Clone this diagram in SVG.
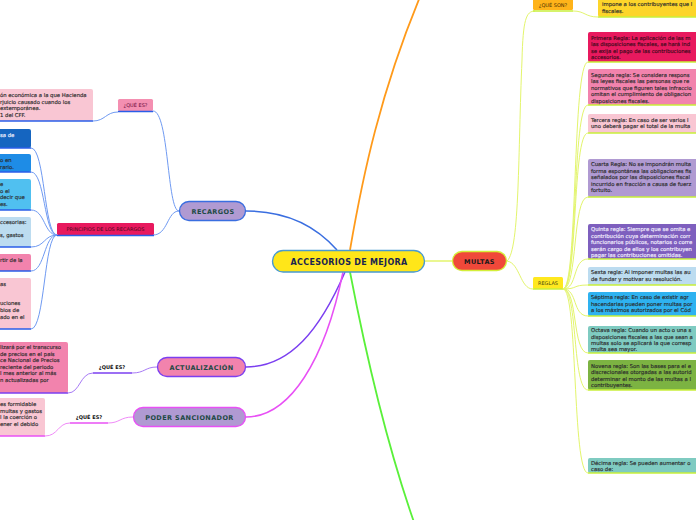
<svg xmlns="http://www.w3.org/2000/svg" width="696" height="520" viewBox="0 0 696 520">
<style>
.t{font-family:"DejaVu Sans",sans-serif;font-size:5.3px;fill:#2a2a2a;stroke:#2a2a2a;stroke-width:0.15px}
.w{fill:#f4f0ff;stroke:#f4f0ff}
.m{fill:#3a0a1a;stroke:#3a0a1a}
.nl{font-family:"DejaVu Sans",sans-serif;font-weight:bold;font-size:6.5px;letter-spacing:0.4px;fill:#1d4a44;text-anchor:middle}
.lb{font-family:"DejaVu Sans",sans-serif;font-size:5px;text-anchor:middle}
.c{fill:none}
.blue{stroke:#6f9af2;stroke-width:1}
.bu{stroke:#2a5ee8;stroke-width:1.5}
.lime{stroke:#e3f56c;stroke-width:1}
.lu{stroke:#c8ef3a;stroke-width:1.5}
</style>
<rect width="696" height="520" fill="#ffffff"/>
<g id="connectors" class="c">
<path d="M246,211 C285,211 315,225 337,250" stroke="#3a6ee0" stroke-width="1.5"/>
<path d="M350,250 C362,180 380,90 425,-15" stroke="#ff9a1a" stroke-width="1.8"/>
<path d="M350,272 C365,350 385,440 415,525" stroke="#5af03a" stroke-width="1.8"/>
<path d="M345,272 C320,330 290,367 246,367" stroke="#7b3ff0" stroke-width="1.5"/>
<path d="M343,272 C325,360 290,417 246,417" stroke="#e850f5" stroke-width="1.5"/>
<path d="M425,261 L452,261" stroke="#e3f56c" stroke-width="1.5"/>
<path class="blue" d="M179,211 C167,211 169,111 153,111"/>
<path class="blue" d="M179,211 C167,211 168,235 153,235"/>
<path class="blue" d="M118,112 C106,112 105,121 93,121"/>
<path class="blue" d="M57,235 C44,235 45,148 31,148"/>
<path class="blue" d="M57,235 C44,235 45,172 31,172"/>
<path class="blue" d="M57,235 C44,235 45,210 31,210"/>
<path class="blue" d="M57,235 C44,235 45,247 31,247"/>
<path class="blue" d="M57,235 C44,235 45,271 31,271"/>
<path class="blue" d="M57,235 C44,235 45,329 31,329"/>
<path d="M157,367 C145,367 145,373 132,373" stroke="#a77af5" stroke-width="1"/>
<path d="M93,373 C80,373 80,393 68,393" stroke="#a77af5" stroke-width="1"/>
<path d="M133,417 C120,417 120,423 108,423" stroke="#f08af8" stroke-width="1"/>
<path d="M70,423 C58,423 58,436 45,436" stroke="#f08af8" stroke-width="1"/>
<path class="lime" d="M507,261 C520,250 518,150 522,60 C523,20 526,11 535,11"/>
<path class="lime" d="M507,261 C520,263 520,289 533,289"/>
<path class="lime" d="M573,11 C585,11 585,17 598,17"/>
<path class="lime" d="M563,289 C578,289 572,62 588,62"/>
<path class="lime" d="M563,289 C578,289 572,105 588,105"/>
<path class="lime" d="M563,289 C578,289 572,133 588,133"/>
<path class="lime" d="M563,289 C578,289 572,197 588,197"/>
<path class="lime" d="M563,289 C578,289 572,259 588,259"/>
<path class="lime" d="M563,289 C578,289 572,285 588,285"/>
<path class="lime" d="M563,289 C578,289 572,316 588,316"/>
<path class="lime" d="M563,289 C578,289 572,353 588,353"/>
<path class="lime" d="M563,289 C578,289 572,390 588,390"/>
<path class="lime" d="M563,289 C578,289 572,473 588,473"/>
</g>
<g id="central">
<rect x="272.5" y="250.5" width="152" height="21.5" rx="10.7" fill="#ffe619" stroke="#4a9ad0" stroke-width="1.3"/>
<text x="349" y="264.5" text-anchor="middle" font-family="DejaVu Sans,sans-serif" font-weight="bold" font-size="8" letter-spacing="0.3" fill="#1a2550">ACCESORIOS DE MEJORA</text>
</g>
<g id="recargos">
<rect x="179.5" y="201.5" width="66" height="19" rx="9.5" fill="#b09ad2" stroke="#3a6ee0" stroke-width="1.3"/>
<text class="nl" x="213" y="213.5">RECARGOS</text>
</g>
<g id="actualizacion">
<rect x="157.5" y="357.5" width="88" height="19" rx="9.5" fill="#f283ad" stroke="#7b3ff0" stroke-width="1.3"/>
<text class="nl" x="201.5" y="369.5">ACTUALIZACIÓN</text>
</g>
<g id="poder">
<rect x="133.5" y="407.5" width="112" height="19" rx="9.5" fill="#b09ad2" stroke="#e850f5" stroke-width="1.3"/>
<text class="nl" x="189.5" y="419.5">PODER SANCIONADOR</text>
</g>
<g id="multas">
<rect x="452.5" y="251.5" width="54" height="19" rx="9.5" fill="#f0483a" stroke="#d4ef3a" stroke-width="1.3"/>
<text class="nl" x="479.5" y="263.5" style="fill:#1a1a1a">MULTAS</text>
</g>
<g id="recargos-que-es">
<rect x="118" y="99" width="35" height="12" rx="1.5" fill="#f48fb1"/>
<line x1="118" y1="111.5" x2="153" y2="111.5" class="bu"/>
<text class="lb" x="135.5" y="107" fill="#6a0a3a">¿QUÉ ES?</text>
</g>
<g id="recargos-def">
<rect x="-3" y="89" width="96" height="32" rx="2" fill="#f9c6d3"/>
<line x1="0" y1="121" x2="93" y2="121" class="bu"/>
<text class="t" x="0" y="97">ón económica a la que Hacienda</text>
<text class="t" x="0" y="103.5">rjuicio causado cuando los</text>
<text class="t" x="0" y="110"> extemporánea.</text>
<text class="t" x="0" y="116.5">1 del CFF.</text>
</g>
<g id="principios">
<rect x="57" y="223" width="97" height="12" rx="1.5" fill="#e8195e"/>
<line x1="57" y1="235.5" x2="154" y2="235.5" class="bu"/>
<text class="lb" x="105.5" y="231" fill="#4a0a20">PRINCIPIOS DE LOS RECARGOS</text>
</g>
<g id="p1">
<rect x="-3" y="129" width="34" height="19" rx="2" fill="#1565c0"/>
<line x1="0" y1="148" x2="31" y2="148" class="bu"/>
<text class="t w" x="0" y="137">sa de</text>
</g>
<g id="p2">
<rect x="-3" y="154" width="34" height="18" rx="2" fill="#1e8ce6"/>
<line x1="0" y1="172" x2="31" y2="172" class="bu"/>
<text class="t" x="0" y="162">o en</text>
<text class="t" x="0" y="168.5">rario.</text>
</g>
<g id="p3">
<rect x="-3" y="179" width="34" height="31" rx="2" fill="#50c0f0"/>
<line x1="0" y1="210" x2="31" y2="210" class="bu"/>
<text class="t" x="0" y="186">e</text>
<text class="t" x="0" y="192.5">o el</text>
<text class="t" x="0" y="199">decir que</text>
<text class="t" x="0" y="205.5">es.</text>
</g>
<g id="p4">
<rect x="-3" y="217" width="34" height="30" rx="2" fill="#bcdcf0"/>
<line x1="0" y1="247" x2="31" y2="247" class="bu"/>
<text class="t" x="0" y="224">ccesorias:</text>
<text class="t" x="0" y="237">s, gastos</text>
</g>
<g id="p5">
<rect x="-3" y="254" width="34" height="17" rx="2" fill="#f283ad"/>
<line x1="0" y1="271" x2="31" y2="271" class="bu"/>
<text class="t" x="0" y="262">rtir de la</text>
</g>
<g id="p6">
<rect x="-3" y="278" width="34" height="51" rx="2" fill="#f9c6d3"/>
<line x1="0" y1="329" x2="31" y2="329" class="bu"/>
<text class="t" x="0" y="286">as</text>
<text class="t" x="0" y="305">uciones</text>
<text class="t" x="0" y="311.5">bios de</text>
<text class="t" x="0" y="318.5">ado en el</text>
</g>
<g id="act-que-es">
<line x1="93" y1="373" x2="132" y2="373" stroke="#7b3ff0" stroke-width="1.5"/>
<text class="lb" x="112" y="369" font-weight="bold" fill="#111">¿QUÉ ES?</text>
</g>
<g id="act-def">
<rect x="-3" y="342" width="71" height="51" rx="2" fill="#f283ad"/>
<line x1="0" y1="393" x2="68" y2="393" stroke="#7b3ff0" stroke-width="1.5"/>
<text class="t" x="0" y="349">lizará por el transcurso</text>
<text class="t" x="0" y="355.5">de precios en el país</text>
<text class="t" x="0" y="362">ce Nacional de Precios</text>
<text class="t" x="0" y="368.5">reciente del periodo</text>
<text class="t" x="0" y="375">l mes anterior al más</text>
<text class="t" x="0" y="381.5">n actualizadas por</text>
</g>
<g id="poder-que-es">
<line x1="70" y1="423" x2="108" y2="423" stroke="#e850f5" stroke-width="1.5"/>
<text class="lb" x="89" y="419" font-weight="bold" fill="#111">¿QUÉ ES?</text>
</g>
<g id="poder-def">
<rect x="-3" y="398" width="48" height="38" rx="2" fill="#f9c6d3"/>
<line x1="0" y1="436" x2="45" y2="436" stroke="#e850f5" stroke-width="1.5"/>
<text class="t" x="0" y="406">es formidable</text>
<text class="t" x="0" y="412.5">multas y gastos</text>
<text class="t" x="0" y="419">l la coerción o</text>
<text class="t" x="0" y="425.5">ener el debido</text>
</g>
<g id="que-son">
<rect x="533" y="-2" width="40" height="12" rx="1.5" fill="#ffb31a"/>
<line x1="533" y1="11" x2="573" y2="11" class="lu"/>
<text class="lb" x="553" y="7" fill="#4a3000">¿QUÉ SON?</text>
</g>
<g id="que-son-def">
<rect x="598" y="-3" width="101" height="20" rx="2" fill="#fdd52a"/>
<line x1="598" y1="17" x2="696" y2="17" class="lu"/>
<text class="t" x="602" y="6">impone a los contribuyentes que l</text>
<text class="t" x="602" y="12.5">fiscales.</text>
</g>
<g id="reglas">
<rect x="533" y="277" width="30" height="12" rx="1.5" fill="#ffe81f"/>
<line x1="533" y1="289" x2="563" y2="289" class="lu"/>
<text class="lb" x="548" y="285" fill="#4a4a10">REGLAS</text>
</g>
<g id="r1">
<rect x="588" y="32" width="111" height="30" rx="2" fill="#e8195e"/>
<line x1="588" y1="62" x2="696" y2="62" class="lu"/>
<text class="t m" x="591" y="39.5">Primera Regla: La aplicación de las m</text>
<text class="t m" x="591" y="46">las disposiciones fiscales, se hará ind</text>
<text class="t m" x="591" y="52.5">se exija el pago de las contribuciones</text>
<text class="t m" x="591" y="59">accesorios.</text>
</g>
<g id="r2">
<rect x="588" y="69" width="111" height="36" rx="2" fill="#f283ad"/>
<line x1="588" y1="105" x2="696" y2="105" class="lu"/>
<text class="t" x="591" y="76.5">Segunda regla: Se considera respons</text>
<text class="t" x="591" y="83">las leyes fiscales las personas que re</text>
<text class="t" x="591" y="89.5">normativos que figuren tales infraccio</text>
<text class="t" x="591" y="96">omitan el cumplimiento de obligacion</text>
<text class="t" x="591" y="102.5">disposiciones fiscales.</text>
</g>
<g id="r3">
<rect x="588" y="114" width="111" height="19" rx="2" fill="#f9c6d3"/>
<line x1="588" y1="133" x2="696" y2="133" class="lu"/>
<text class="t" x="591" y="121.5">Tercera regla: En caso de ser varios l</text>
<text class="t" x="591" y="128">uno deberá pagar el total de la multa</text>
</g>
<g id="r4">
<rect x="588" y="159" width="111" height="38" rx="2" fill="#b09ad2"/>
<line x1="588" y1="197" x2="696" y2="197" class="lu"/>
<text class="t" x="591" y="166">Cuarta Regla: No se impondrán multa</text>
<text class="t" x="591" y="172.5">forma espontánea las obligaciones fis</text>
<text class="t" x="591" y="179">señalados por las disposiciones fiscal</text>
<text class="t" x="591" y="185.5">incurrido en fracción a causa de fuerz</text>
<text class="t" x="591" y="192">fortuito.</text>
</g>
<g id="r5">
<rect x="588" y="224" width="111" height="35" rx="2" fill="#7e5fbe"/>
<line x1="588" y1="259" x2="696" y2="259" class="lu"/>
<text class="t w" x="591" y="231">Quinta regla: Siempre que se omita e</text>
<text class="t w" x="591" y="237.5">contribución cuya determinación corr</text>
<text class="t w" x="591" y="244">funcionarios públicos, notarios o corre</text>
<text class="t w" x="591" y="250.5">serán cargo de ellos y los contribuyen</text>
<text class="t w" x="591" y="257">pagar las contribuciones omitidas.</text>
</g>
<g id="r6">
<rect x="588" y="267" width="111" height="18" rx="2" fill="#bcdcf0"/>
<line x1="588" y1="285" x2="696" y2="285" class="lu"/>
<text class="t" x="591" y="274">Sexta regla: Al imponer multas las au</text>
<text class="t" x="591" y="280.5">de fundar y motivar su resolución.</text>
</g>
<g id="r7">
<rect x="588" y="292" width="111" height="24" rx="2" fill="#2eb2f0"/>
<line x1="588" y1="316" x2="696" y2="316" class="lu"/>
<text class="t" x="591" y="299">Séptima regla: En caso de existir agr</text>
<text class="t" x="591" y="305.5">hacendarias pueden poner multas por</text>
<text class="t" x="591" y="312">a los máximos autorizados por el Cód</text>
</g>
<g id="r8">
<rect x="588" y="326" width="111" height="27" rx="2" fill="#7fcbc1"/>
<line x1="588" y1="353" x2="696" y2="353" class="lu"/>
<text class="t" x="591" y="332">Octava regla: Cuando un acto o una s</text>
<text class="t" x="591" y="338.5">disposiciones fiscales a las que sean a</text>
<text class="t" x="591" y="345">multas solo se aplicará la que corresp</text>
<text class="t" x="591" y="351">multa sea mayor.</text>
</g>
<g id="r9">
<rect x="588" y="360" width="111" height="30" rx="2" fill="#7cb342"/>
<line x1="588" y1="390" x2="696" y2="390" class="lu"/>
<text class="t" x="591" y="367.5">Novena regla: Son las bases para el e</text>
<text class="t" x="591" y="374">discrecionales otorgadas a las autorid</text>
<text class="t" x="591" y="380.5">determinar el monto de las multas a l</text>
<text class="t" x="591" y="387">contribuyentes.</text>
</g>
<g id="r10">
<rect x="588" y="458" width="111" height="15" rx="2" fill="#7fcbc1"/>
<line x1="588" y1="473" x2="696" y2="473" class="lu"/>
<text class="t" x="591" y="464.5">Décima regla: Se pueden aumentar o</text>
<text class="t" x="591" y="471">caso de:</text>
</g>
</svg>
